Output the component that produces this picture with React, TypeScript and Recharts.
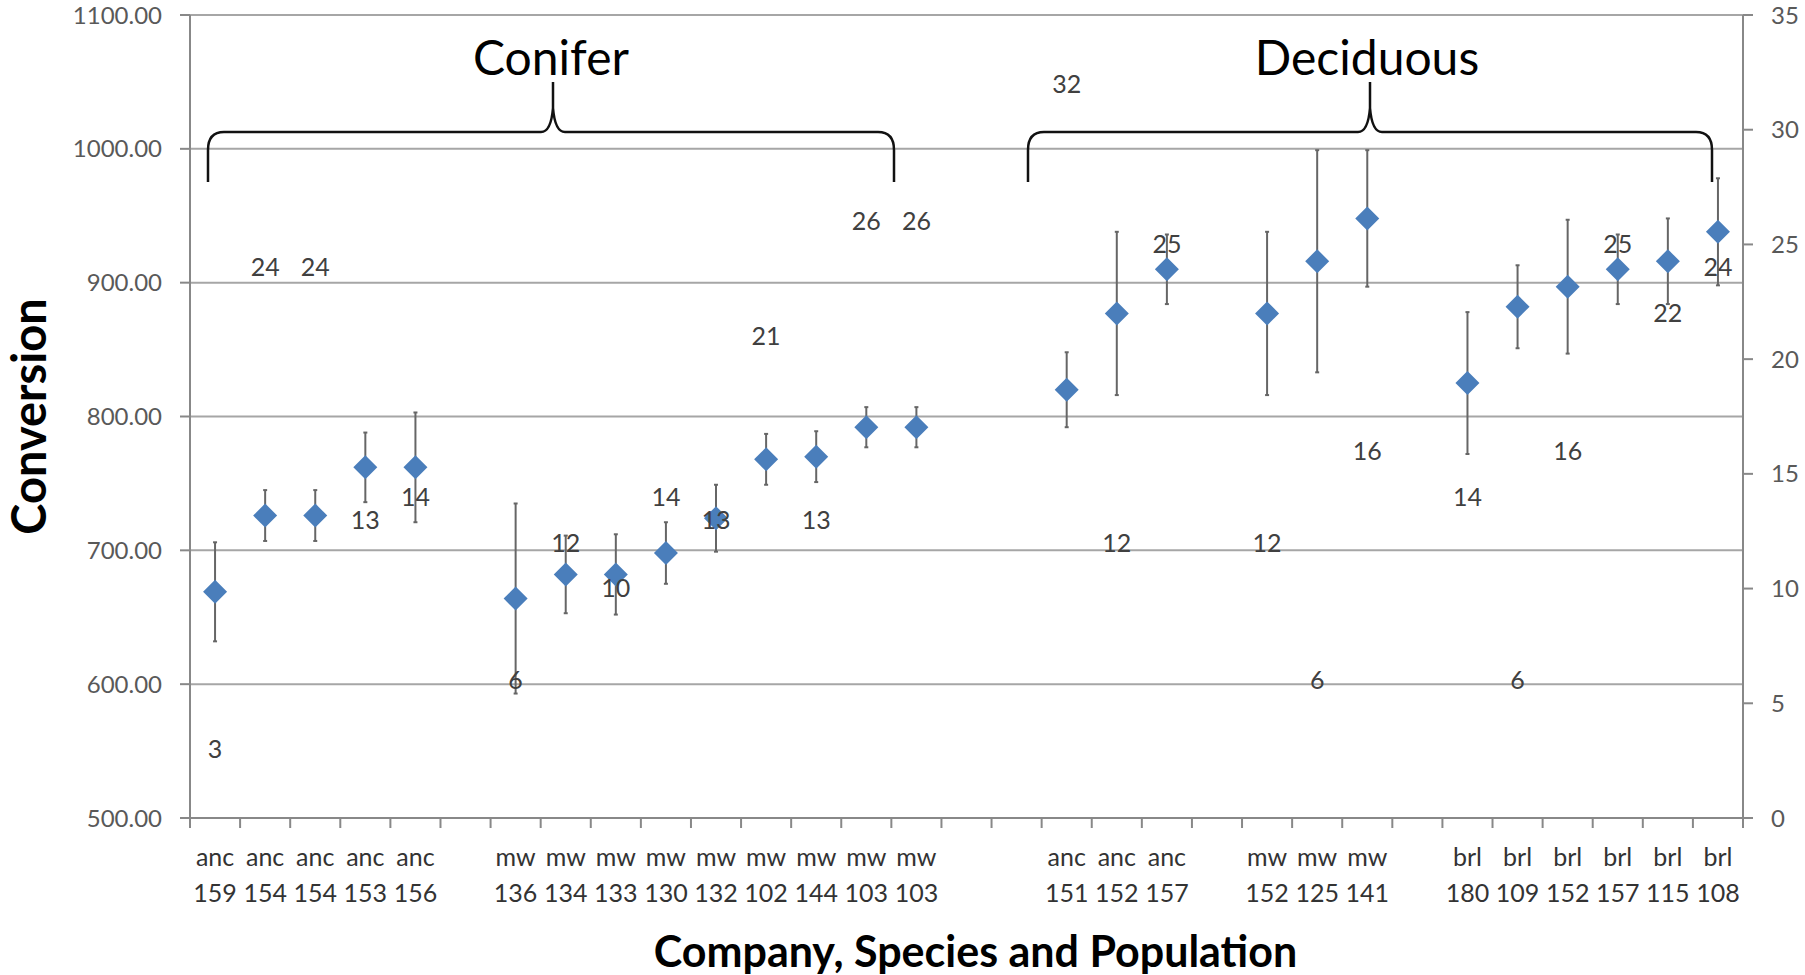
import { CartesianGrid, ComposedChart, ErrorBar, LabelList, Line, XAxis, YAxis } from "recharts";

// category labels (two-line ticks), "" = empty slot between groups
const species = [
    "anc", "anc", "anc", "anc", "anc", "",
    "mw", "mw", "mw", "mw", "mw", "mw", "mw", "mw", "mw", "", "",
    "anc", "anc", "anc", "",
    "mw", "mw", "mw", "",
    "brl", "brl", "brl", "brl", "brl", "brl",
];
const populations = [
    "159", "154", "154", "153", "156", "",
    "136", "134", "133", "130", "132", "102", "144", "103", "103", "", "",
    "151", "152", "157", "",
    "152", "125", "141", "",
    "180", "109", "152", "157", "115", "108",
];

// mean conversion (left axis) and its error
const conversion = [
    669, 726, 726, 762, 762, null,
    664, 682, 682, 698, 724, 768, 770, 792, 792, null, null,
    820, 877, 910, null,
    877, 916, 948, null,
    825, 882, 897, 910, 916, 938,
];
const conversionErr = [
    37, 19, 19, 26, 41, null,
    71, 29, 30, 23, 25, 19, 19, 15, 15, null, null,
    28, 61, 26, null,
    61, 83, 51, null,
    53, 31, 50, 26, 32, 40,
];

// sample counts (right axis), shown as labels only
const sampleSize = [
    3, 24, 24, 13, 14, null,
    6, 12, 10, 14, 13, 21, 13, 26, 26, null, null,
    32, 12, 25, null,
    12, 6, 16, null,
    14, 6, 16, 25, 22, 24,
];

const leftTicks = [500, 600, 700, 800, 900, 1000, 1100];
const rightTicks = [0, 5, 10, 15, 20, 25, 30, 35];

const rows = species.map((s, i) => ({
    i,
    conversion: conversion[i],
    err: conversionErr[i],
    n: sampleSize[i],
}));

const FONT = "Lato, 'Open Sans', sans-serif";
const W = 1805;
const H = 975;
const TOP = 15;
const X_AXIS_H = 157;
const LEFT_W = 190;
const RIGHT_W = 62;
const BAND = (W - LEFT_W - RIGHT_W) / species.length;

function CategoryTick(props: any) {
    const { x, y, payload } = props;
    const i = payload.value;
    const last = i === species.length - 1;
    return (
        <g>
            <line x1={x - BAND / 2} x2={x - BAND / 2} y1={y} y2={y + 10} stroke="#888" strokeWidth={2} />
            {last && <line x1={x + BAND / 2} x2={x + BAND / 2} y1={y} y2={y + 10} stroke="#888" strokeWidth={2} />}
            <text x={x} y={y} textAnchor="middle" fontFamily={FONT} fontSize={25} fill="#333">
                <tspan x={x} dy={48}>{species[i]}</tspan>
                <tspan x={x} dy={36}>{populations[i]}</tspan>
            </text>
        </g>
    );
}

const renderDiamond = (p: any) => {
    const { cx, cy, index, value } = p;
    if (cx == null || cy == null || value == null) return <g key={`d${index}`} />;
    const r = 12;
    return (
        <polygon
            key={`d${index}`}
            points={`${cx},${cy - r} ${cx + r},${cy} ${cx},${cy + r} ${cx - r},${cy}`}
            fill="#4a7ebb"
        />
    );
};

const YTitle = (props: any) => {
    const { x, y, height } = props.viewBox;
    const cx = x + 30;
    const cy = y + height / 2;
    return (
        <text x={cx} y={cy} dy="0.35em" transform={`rotate(-90 ${cx} ${cy})`} textAnchor="middle"
            fontFamily={FONT} fontWeight={700} fontSize={47} fill="#000">
            Conversion
        </text>
    );
};

const XTitle = (props: any) => {
    const { x, y, width, height } = props.viewBox;
    return (
        <text x={x + width / 2 + 9} y={y + height - 8} textAnchor="middle"
            fontFamily={FONT} fontWeight={700} fontSize={43} fill="#000">
            Company, Species and Population
        </text>
    );
};

export default function App() {
    return (
        <div style={{ position: "absolute", left: 0, top: 0, width: W, height: H, background: "#fff" }}>
            <ComposedChart width={W} height={H} data={rows} margin={{ top: TOP, right: 0, bottom: 0, left: 0 }}>
                <CartesianGrid yAxisId="left" vertical={false} stroke="#a6a6a6" strokeWidth={2} />
                <XAxis
                    dataKey="i"
                    type="category"
                    scale="band"
                    interval={0}
                    height={X_AXIS_H}
                    tickLine={false}
                    tickSize={0}
                    tickMargin={0}
                    axisLine={{ stroke: "#888", strokeWidth: 2 }}
                    tick={<CategoryTick />}
                    label={{ content: XTitle }}
                />
                <YAxis
                    yAxisId="left"
                    width={LEFT_W}
                    domain={[500, 1100]}
                    ticks={leftTicks}
                    interval={0}
                    tickFormatter={(v: number) => v.toFixed(2)}
                    tickSize={10}
                    tickMargin={18}
                    tickLine={{ stroke: "#888", strokeWidth: 2 }}
                    axisLine={{ stroke: "#888", strokeWidth: 2 }}
                    tick={{ fontFamily: FONT, fontSize: 24, fill: "#595959" }}
                    label={{ content: YTitle }}
                />
                <YAxis
                    yAxisId="right"
                    orientation="right"
                    width={RIGHT_W}
                    domain={[0, 35]}
                    ticks={rightTicks}
                    interval={0}
                    tickSize={10}
                    tickMargin={18}
                    tickLine={{ stroke: "#888", strokeWidth: 2 }}
                    axisLine={{ stroke: "#888", strokeWidth: 2 }}
                    tick={{ fontFamily: FONT, fontSize: 24, fill: "#595959", textAnchor: "start" }}
                />
                <Line
                    yAxisId="left"
                    dataKey="conversion"
                    stroke="none"
                    dot={renderDiamond}
                    activeDot={false}
                    legendType="none"
                    isAnimationActive={false}
                >
                    <ErrorBar dataKey="err" direction="y" width={2} stroke="#666" strokeWidth={2} />
                </Line>
                <Line
                    yAxisId="right"
                    dataKey="n"
                    stroke="none"
                    dot={false}
                    activeDot={false}
                    legendType="none"
                    isAnimationActive={false}
                >
                    <LabelList dataKey="n" position="center" fontFamily={FONT} fontSize={25} fill="#404040" />
                </Line>
            </ComposedChart>
            <svg width={W} height={H} style={{ position: "absolute", left: 0, top: 0, pointerEvents: "none" }}>
                <g fill="none" stroke="#111" strokeWidth={2.5}>
                    <path d="M208,182 L208,150 Q208,132 224,132 L541,132 Q551,132 553,108 L553,82 M553,108 Q555,132 565,132 L878,132 Q894,132 894,150 L894,182" />
                    <path d="M1028,182 L1028,150 Q1028,132 1044,132 L1358,132 Q1368,132 1370,108 L1370,82 M1370,108 Q1372,132 1382,132 L1696,132 Q1712,132 1712,150 L1712,182" />
                </g>
                <text x={551} y={75} textAnchor="middle" fontFamily={FONT} fontSize={48} fill="#000">Conifer</text>
                <text x={1367} y={75} textAnchor="middle" fontFamily={FONT} fontSize={48} fill="#000">Deciduous</text>
            </svg>
        </div>
    );
}
